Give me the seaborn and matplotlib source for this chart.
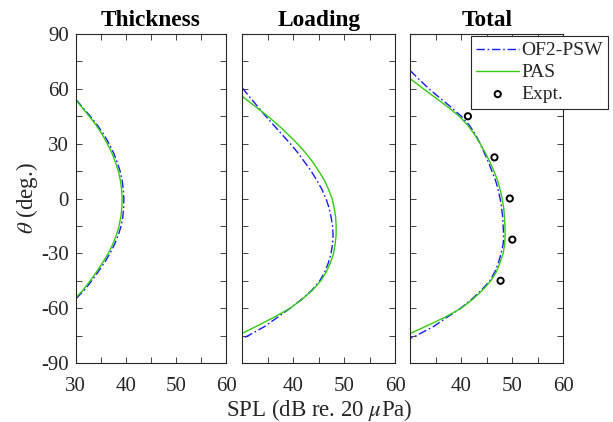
import matplotlib
matplotlib.use("Agg")
import matplotlib.pyplot as plt
import seaborn as sns
import pandas as pd
from matplotlib.ticker import MultipleLocator, FixedLocator, FixedFormatter

# ---------------- data: SPL (dB) against polar angle theta (deg) ----------------
# Thickness noise
thk_theta_psw = [54, 50, 45, 40, 35, 30, 25, 20, 15, 10, 5, 0, -5, -10, -15, -20, -25, -30, -35, -40, -45, -50, -54, -55]
thk_spl_psw = [30.1, 31.35, 32.9, 34.35, 35.6, 36.65, 37.55, 38.25, 38.85, 39.25, 39.5, 39.6, 39.55, 39.4, 39.05, 38.5, 37.75, 36.85, 35.75, 34.5, 33.2, 31.75, 30.35, 29.95]
thk_theta_pas = [54, 50, 45, 40, 35, 30, 25, 20, 15, 10, 5, 0, -5, -10, -15, -20, -25, -30, -35, -40, -45, -50, -54, -54.5]
thk_spl_pas = [30.0, 31.2, 32.7, 34.1, 35.3, 36.3, 37.2, 37.9, 38.5, 38.9, 39.15, 39.25, 39.2, 39.0, 38.65, 38.1, 37.4, 36.5, 35.4, 34.2, 32.9, 31.5, 30.1, 29.9]

# Loading noise
ld_theta_psw = [60.5, 60, 55, 50, 45, 40, 35, 30, 25, 20, 15, 10, 5, 0, -5, -10, -15, -20, -25, -30, -35, -40, -45, -50, -55, -60, -65, -70, -75, -76.5]
ld_spl_psw = [30.0, 30.15, 31.6, 33.1, 34.6, 36.2, 37.8, 39.4, 40.9, 42.2, 43.5, 44.6, 45.6, 46.4, 47.0, 47.4, 47.7, 47.8, 47.7, 47.4, 46.9, 46.2, 45.2, 43.7, 41.7, 39.4, 36.9, 34.4, 31.2, 30.0]
ld_theta_pas = [56, 55, 50, 45, 40, 35, 30, 25, 20, 15, 10, 5, 0, -5, -10, -15, -20, -25, -30, -35, -40, -45, -50, -55, -60, -65, -70, -74]
ld_spl_pas = [30.0, 30.4, 32.7, 35.0, 37.1, 39.0, 40.8, 42.4, 43.8, 45.0, 46.1, 46.9, 47.6, 48.0, 48.3, 48.4, 48.4, 48.2, 47.9, 47.3, 46.5, 45.4, 43.8, 41.8, 39.4, 36.2, 32.7, 29.8]

# Total noise
tot_theta_psw = [70, 65, 60, 55, 50, 45, 40, 35, 30, 25, 20, 15, 10, 5, 0, -5, -10, -15, -20, -25, -30, -35, -40, -45, -50, -55, -60, -65, -70, -75, -76.5]
tot_spl_psw = [30.0, 31.8, 33.7, 35.8, 38.0, 40.0, 41.6, 42.8, 43.7, 44.5, 45.3, 46.0, 46.7, 47.2, 47.6, 47.9, 48.1, 48.2, 48.3, 48.2, 47.8, 47.3, 46.6, 45.6, 44.0, 42.1, 39.9, 37.2, 34.6, 31.2, 30.0]
tot_theta_pas = [65.5, 65, 60, 55, 50, 45, 40, 35, 30, 25, 20, 15, 10, 5, 0, -5, -10, -15, -20, -25, -30, -35, -40, -45, -50, -55, -60, -65, -70, -74]
tot_spl_pas = [30.0, 30.25, 32.6, 35.0, 37.4, 39.6, 41.3, 42.6, 43.7, 44.7, 45.6, 46.4, 47.1, 47.6, 48.0, 48.3, 48.45, 48.55, 48.6, 48.5, 48.2, 47.6, 46.9, 45.8, 44.2, 42.3, 40.0, 36.8, 33.0, 29.9]

# Measurements
expt_theta = [45, 22.5, 0, -22.5, -45]
expt_spl = [41.3, 46.5, 49.5, 50.0, 47.7]

panel_titles = ["Thickness", "Loading", "Total"]
series_labels = ["OF2-PSW", "PAS", "Expt."]
x_ticks = [30, 40, 50, 60]
y_ticks = [-90, -60, -30, 0, 30, 60, 90]

# ---------------- style ----------------
sns.set_theme(style="ticks")
plt.rcParams.update({
    "font.family": ["Liberation Serif", "DejaVu Serif"],
    "mathtext.fontset": "stix",
    "axes.unicode_minus": False,
    "axes.edgecolor": "#262626",
    "axes.linewidth": 0.8,
    "xtick.color": "#262626",
    "ytick.color": "#262626",
    "xtick.labelcolor": "#262626",
    "ytick.labelcolor": "#262626",
    "xtick.labelsize": 15,
    "ytick.labelsize": 15,
})

BLUE = "#1a1aff"
GREEN = "#33cc11"

W, H = 613, 422
fig, axes = plt.subplots(1, 3, figsize=(W / 100, H / 100), dpi=100)
edges = [(75.7, 226.2), (242.3, 395.3), (410.2, 563.4)]
for ax, (l, r) in zip(axes, edges):
    ax.set_position([l / W, (H - 363) / H, (r - l) / W, 329 / H])

panels = [
    (thk_theta_psw, thk_spl_psw, thk_theta_pas, thk_spl_pas),
    (ld_theta_psw, ld_spl_psw, ld_theta_pas, ld_spl_pas),
    (tot_theta_psw, tot_spl_psw, tot_theta_pas, tot_spl_pas),
]

for i, (ax, (tp, sp, tq, sq)) in enumerate(zip(axes, panels)):
    d_psw = pd.DataFrame({"spl": sp, "theta": tp})
    d_pas = pd.DataFrame({"spl": sq, "theta": tq})
    sns.lineplot(data=d_psw, x="spl", y="theta", sort=False, estimator=None,
                 ax=ax, color=BLUE, linestyle=(0, (6, 2, 1.2, 2)), linewidth=1.0,
                 label=series_labels[0], legend=False)
    sns.lineplot(data=d_pas, x="spl", y="theta", sort=False, estimator=None,
                 ax=ax, color=GREEN, linewidth=1.0,
                 label=series_labels[1], legend=False)
    if i == 2:
        sns.scatterplot(x=expt_spl, y=expt_theta, ax=ax, marker="o", s=20,
                        facecolor="none", edgecolor="black", linewidth=1.4,
                        label=series_labels[2], legend=False, zorder=5)

    ax.set_xlim(30, 60)
    ax.set_ylim(-90, 90)
    ax.xaxis.set_major_locator(FixedLocator(x_ticks))
    ax.xaxis.set_minor_locator(MultipleLocator(5))
    ax.yaxis.set_major_locator(FixedLocator(y_ticks))
    ax.yaxis.set_minor_locator(MultipleLocator(15))
    xl = [str(v) for v in x_ticks]
    if i > 0:
        xl[0] = ""
    ax.xaxis.set_major_formatter(FixedFormatter(xl))
    ax.tick_params(which="both", direction="in", top=True, right=True,
                   length=4, width=0.6)
    ax.tick_params(axis="x", pad=10)
    ax.tick_params(axis="y", pad=5)
    if i > 0:
        ax.tick_params(axis="y", labelleft=False)
    ax.set_xlabel("")
    ax.set_ylabel("")
    ax.set_title(panel_titles[i], fontsize=16.8, fontweight="bold", color="black", pad=6)

axes[0].set_ylabel(r"$\theta$ (deg.)", fontsize=16.5, color="#262626", labelpad=1)
axes[1].set_xlabel(r"SPL (dB re. 20 $\mu$Pa)", fontsize=16.5, color="#262626", labelpad=0.5)

handles, labels = axes[2].get_legend_handles_labels()
leg = fig.legend(handles, labels, loc="upper left",
                 bbox_to_anchor=(470.5 / W, 1 - 36 / H), bbox_transform=fig.transFigure,
                 borderaxespad=0, fontsize=14, frameon=True, fancybox=False,
                 handlelength=2.2, handletextpad=0.1, labelspacing=0.22,
                 borderpad=0.3, numpoints=1)
leg.get_frame().set_edgecolor("#262626")
leg.get_frame().set_linewidth(0.8)
leg.get_frame().set_facecolor("white")
leg.get_frame().set_alpha(1)

fig.savefig("out.png", dpi=100)
